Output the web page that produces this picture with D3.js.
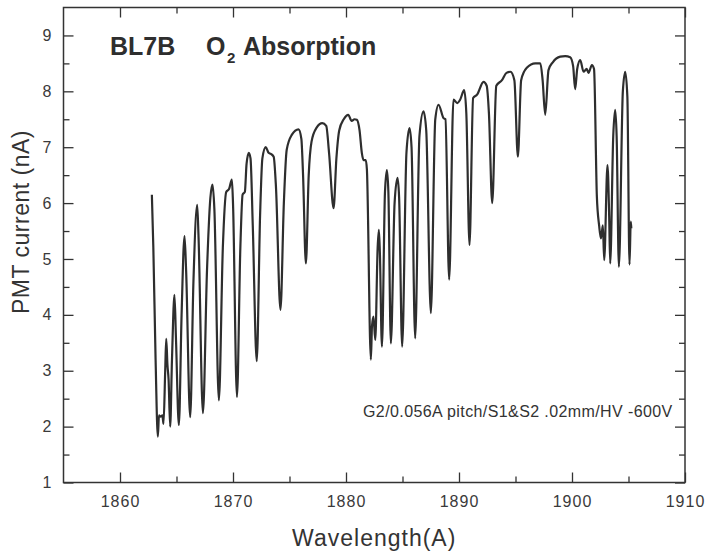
<!DOCTYPE html>
<html>
<head>
<meta charset="utf-8">
<script src="https://cdn.jsdelivr.net/npm/d3@7"></script>
<style>
  body { margin: 0; background: #fff; }
  svg { display: block; font-family: "Liberation Sans", Arial, sans-serif; }
</style>
</head>
<body>
<svg id="chart" width="707" height="554"></svg>
<script>
// O2 absorption scan, BL7B. values
var wavelength = [
  1862.82, 1862.95, 1863.15, 1863.35, 1863.45, 1863.6, 1863.75, 1863.85, 1864.0, 1864.09,
  1864.2, 1864.3, 1864.44, 1864.6, 1864.82, 1864.95, 1865.21, 1865.45, 1865.71, 1865.85,
  1866.21, 1866.5, 1866.83, 1866.95, 1867.34, 1867.7, 1868.0, 1868.19, 1868.35, 1868.75,
  1869.1, 1869.4, 1869.65, 1869.9, 1870.0, 1870.35, 1870.65, 1870.85, 1871.05, 1871.2,
  1871.4, 1871.55, 1871.75, 1872.1, 1872.4, 1872.6, 1872.9, 1873.15, 1873.35, 1873.6,
  1873.8, 1874.2, 1874.5, 1874.75, 1875.2, 1875.8, 1876.05, 1876.2, 1876.45, 1876.7,
  1876.95, 1877.4, 1877.9, 1878.25, 1878.5, 1878.9, 1879.15, 1879.4, 1879.8, 1880.2,
  1880.5, 1880.75, 1880.96, 1881.2, 1881.4, 1881.55, 1881.75, 1881.85, 1882.2, 1882.3,
  1882.43, 1882.59, 1882.8, 1882.91, 1883.0, 1883.18, 1883.45, 1883.62, 1883.75, 1883.97,
  1884.3, 1884.56, 1884.7, 1884.97, 1885.35, 1885.62, 1885.8, 1886.12, 1886.5, 1886.86,
  1887.1, 1887.51, 1887.9, 1888.19, 1888.63, 1888.8, 1889.13, 1889.51, 1889.85, 1890.1,
  1890.46, 1890.65, 1890.93, 1891.25, 1891.6, 1892.17, 1892.45, 1892.65, 1892.94, 1893.3,
  1893.8, 1894.2, 1894.55, 1894.9, 1895.21, 1895.5, 1896.0, 1896.75, 1897.2, 1897.4,
  1897.63, 1897.92, 1898.3, 1898.96, 1899.4, 1899.84, 1900.1, 1900.28, 1900.46, 1900.73,
  1901.02, 1901.3, 1901.46, 1901.76, 1901.95, 1902.2, 1902.4, 1902.56, 1902.73, 1902.85,
  1903.14, 1903.29, 1903.38, 1903.65, 1903.82, 1903.95, 1904.15, 1904.5, 1904.71, 1904.9,
  1905.09, 1905.2, 1905.25
];
var current = [
  6.15, 5.2, 3.2, 1.82, 2.2, 2.18, 2.2, 2.05, 3.0, 3.57,
  3.1, 2.84, 2.0, 3.2, 4.36, 3.6, 2.03, 4.0, 5.41, 4.8,
  2.17, 4.6, 5.97, 5.4, 2.24, 4.8, 6.1, 6.33, 5.9, 2.47,
  5.2, 6.2, 6.25, 6.42, 6.0, 2.53, 5.2, 6.15, 6.2, 6.7,
  6.9, 6.8, 5.6, 3.17, 5.8, 6.8, 7.0, 6.9, 6.88, 6.83,
  6.3, 4.09, 6.0, 6.95, 7.22, 7.32, 7.15, 6.5, 4.92, 6.5,
  7.1, 7.35, 7.43, 7.38, 6.9, 5.91, 6.8, 7.3, 7.5, 7.58,
  7.47, 7.5, 7.49, 7.3, 6.9, 6.77, 6.77, 6.6, 3.2, 3.8,
  3.97, 3.55, 5.2, 5.52, 5.1, 3.43, 6.2, 6.59, 6.2, 3.49,
  6.0, 6.45, 6.1, 3.43, 6.9, 7.34, 7.0, 3.58, 7.2, 7.64,
  7.3, 4.03, 7.5, 7.76, 7.52, 7.5, 4.63, 7.85, 7.79, 7.85,
  8.02, 7.6, 5.25, 7.88, 7.94, 8.17, 8.1, 7.6, 6.0, 8.1,
  8.2, 8.33, 8.35, 8.2, 6.83, 8.2, 8.42, 8.5, 8.5, 8.2,
  7.58, 8.38, 8.52, 8.62, 8.63, 8.61, 8.45, 8.04, 8.4, 8.56,
  8.35, 8.4, 8.33, 8.47, 8.4, 6.12, 5.6, 5.37, 5.6, 4.98,
  6.68, 5.76, 4.92, 7.2, 7.67, 7.2, 4.86, 8.0, 8.35, 7.9,
  4.9, 5.67, 5.55
];

var xMajor = [1860, 1870, 1880, 1890, 1900, 1910];
var xMinor = [1865, 1875, 1885, 1895, 1905];
var yMajor = [1, 2, 3, 4, 5, 6, 7, 8, 9];
var yMinor = [1.5, 2.5, 3.5, 4.5, 5.5, 6.5, 7.5, 8.5];

var
  svg = d3.select('#chart'),
  ink = '#333',
  frame = {left: 63.5, right: 685, top: 7.5, bottom: 482.5},
  xScale = d3.scaleLinear().domain([1855, 1910]).range([frame.left, frame.right]),
  yScale = d3.scaleLinear().domain([1, 9.5]).range([frame.bottom, frame.top]),
  pts = wavelength.map((w, i) => ({w: w, v: current[i]}))
  ;

function styleAxis(g) {
  g.select('.domain').remove();
  g.selectAll('.tick line').attr('stroke', ink).attr('stroke-width', 1.3);
  g.selectAll('.tick text')
    .attr('fill', '#3a3a3a')
    .attr('font-size', '16px')
    .attr('letter-spacing', '1px')
    .attr('font-family', '"Liberation Sans", Arial, sans-serif');
}

// major + minor ticks, all pointing into the frame
svg.append('g').attr('transform', `translate(0,${frame.bottom})`)
  .call(d3.axisBottom(xScale).tickValues(xMajor).tickFormat(d3.format('d')).tickSize(-10).tickPadding(13))
  .call(styleAxis);
svg.append('g').attr('transform', `translate(0,${frame.bottom})`)
  .call(d3.axisBottom(xScale).tickValues(xMinor).tickFormat('').tickSize(-6))
  .call(styleAxis);
svg.append('g').attr('transform', `translate(0,${frame.top})`)
  .call(d3.axisTop(xScale).tickValues(xMajor).tickFormat('').tickSize(-10))
  .call(styleAxis);
svg.append('g').attr('transform', `translate(0,${frame.top})`)
  .call(d3.axisTop(xScale).tickValues(xMinor).tickFormat('').tickSize(-6))
  .call(styleAxis);

svg.append('g').attr('transform', `translate(${frame.left},0)`)
  .call(d3.axisLeft(yScale).tickValues(yMajor).tickFormat(d3.format('d')).tickSize(-10).tickPadding(11))
  .call(styleAxis);
svg.append('g').attr('transform', `translate(${frame.left},0)`)
  .call(d3.axisLeft(yScale).tickValues(yMinor).tickFormat('').tickSize(-6))
  .call(styleAxis);
svg.append('g').attr('transform', `translate(${frame.right},0)`)
  .call(d3.axisRight(yScale).tickValues(yMajor).tickFormat('').tickSize(-10))
  .call(styleAxis);
svg.append('g').attr('transform', `translate(${frame.right},0)`)
  .call(d3.axisRight(yScale).tickValues(yMinor).tickFormat('').tickSize(-6))
  .call(styleAxis);

svg.append('rect')
  .attr('x', frame.left).attr('y', frame.top)
  .attr('width', frame.right - frame.left).attr('height', frame.bottom - frame.top)
  .attr('fill', 'none')
  .attr('stroke', ink)
  .attr('stroke-width', 1.5);

// spectrum
var line = d3.line()
  .x(d => xScale(d.w))
  .y(d => yScale(d.v))
  .curve(d3.curveMonotoneX);

svg.append('path')
  .datum(pts)
  .attr('d', line)
  .attr('fill', 'none')
  .attr('stroke', '#2e2e2e')
  .attr('stroke-width', 2.2)
  .attr('stroke-linejoin', 'round');

// title block
var title = svg.append('g')
  .attr('fill', '#2e2e2e')
  .attr('font-weight', 'bold')
  .attr('font-size', '25px');
title.append('text').attr('x', 110).attr('y', 55).text('BL7B');
title.append('text').attr('x', 206).attr('y', 55).text('O');
title.append('text').attr('x', 227).attr('y', 63).attr('font-size', '15px').text('2');
title.append('text').attr('x', 243).attr('y', 55).text('Absorption');

svg.append('text')
  .attr('x', 363).attr('y', 417)
  .attr('fill', '#333')
  .attr('font-size', '16px')
  .attr('letter-spacing', '0.4px')
  .text('G2/0.056A pitch/S1&S2 .02mm/HV -600V');

// axis titles
svg.append('text')
  .attr('x', (frame.left + frame.right) / 2).attr('y', 546)
  .attr('text-anchor', 'middle')
  .attr('fill', '#333')
  .attr('font-size', '23px')
  .attr('letter-spacing', '1px')
  .text('Wavelength(A)');

svg.append('text')
  .attr('transform', 'translate(29,222) rotate(-90)')
  .attr('text-anchor', 'middle')
  .attr('fill', '#333')
  .attr('font-size', '23px')
  .attr('letter-spacing', '0.5px')
  .text('PMT current (nA)');
</script>
</body>
</html>
